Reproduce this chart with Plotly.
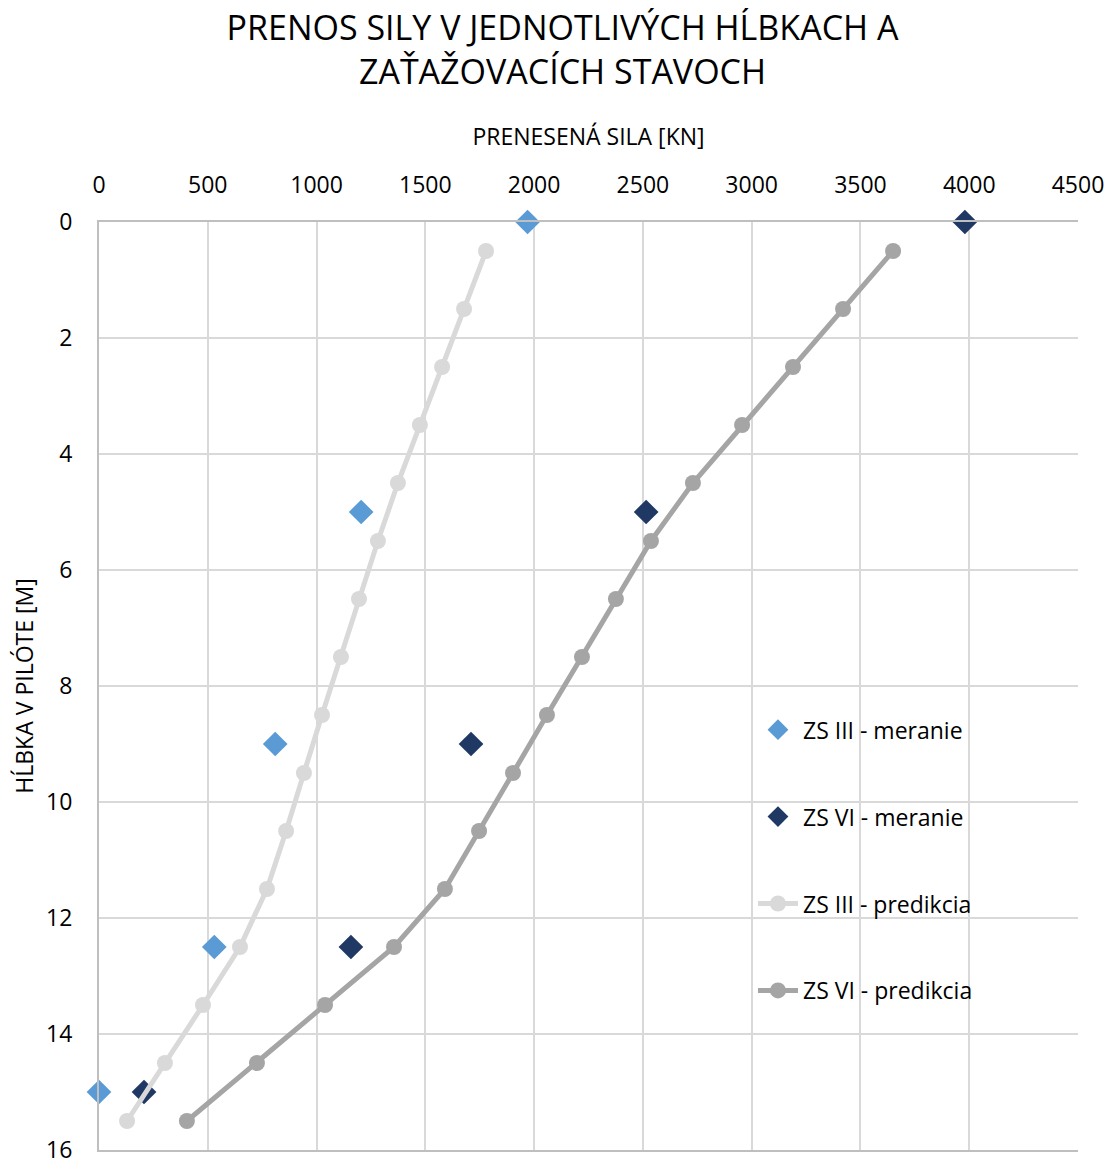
import plotly.graph_objects as go

# Measured values
meas_depth = [0, 5, 9, 12.5, 15]
zs3_meas = [1970, 1205, 810, 530, 0]
zs6_meas = [3980, 2515, 1710, 1158, 207]

pred_depth = [0.5, 1.5, 2.5, 3.5, 4.5, 5.5, 6.5, 7.5, 8.5, 9.5, 10.5, 11.5, 12.5, 13.5, 14.5, 15.5]
zs3_pred = [1779, 1678, 1577, 1475, 1374, 1282, 1195, 1112, 1025, 942, 860, 772, 648, 478, 303, 129]
zs6_pred = [3650, 3420, 3190, 2956, 2730, 2537, 2376, 2220, 2059, 1903, 1747, 1590, 1356, 1039, 726, 404]

x_ticks = [0, 500, 1000, 1500, 2000, 2500, 3000, 3500, 4000, 4500]
y_ticks = [0, 2, 4, 6, 8, 10, 12, 14, 16]

FONT = "Open Sans"

fig = go.Figure()
fig.add_trace(go.Scatter(x=zs3_meas, y=meas_depth, mode="markers", name="ZS III - meranie",
                         legendgroup="a", cliponaxis=False,
                         marker=dict(symbol="diamond", size=19, color="#5B9BD5")))
fig.add_trace(go.Scatter(x=zs6_meas, y=meas_depth, mode="markers", name="ZS VI - meranie",
                         legendgroup="b", cliponaxis=False,
                         marker=dict(symbol="diamond", size=19, color="#203864")))
fig.add_trace(go.Scatter(x=zs3_pred, y=pred_depth, mode="lines+markers", name="ZS III - predikcia",
                         legendgroup="c", cliponaxis=False,
                         line=dict(color="#D9D9D9", width=5),
                         marker=dict(symbol="circle", size=16, color="#D9D9D9")))
fig.add_trace(go.Scatter(x=zs6_pred, y=pred_depth, mode="lines+markers", name="ZS VI - predikcia",
                         legendgroup="d", cliponaxis=False,
                         line=dict(color="#A5A5A5", width=5),
                         marker=dict(symbol="circle", size=16, color="#A5A5A5")))

fig.update_layout(
    width=1109, height=1150,
    paper_bgcolor="white", plot_bgcolor="white",
    margin=dict(l=91, r=39, t=214, b=8),
    font=dict(family=FONT, color="#000000", size=23),
    title=dict(text="PRENOS SILY V JEDNOTLIVÝCH HĹBKACH A<br>ZAŤAŽOVACÍCH STAVOCH",
               x=0.5, xanchor="center", y=0.972, yanchor="top",
               font=dict(family=FONT, size=34, color="#000000")),
    legend=dict(x=0.668, y=0.476, xanchor="left", yanchor="top",
                font=dict(family=FONT, size=23, color="#000000"),
                bgcolor="rgba(0,0,0,0)", tracegroupgap=54, itemwidth=40),
    showlegend=True,
)
fig.update_xaxes(side="top", range=[0, 4500], tickvals=x_ticks, ticktext=[str(v) for v in x_ticks],
                 showgrid=True, gridcolor="#D9D9D9", gridwidth=2,
                 showline=True, linecolor="#BFBFBF", linewidth=2, mirror=True,
                 zeroline=False, ticks="", ticklabelstandoff=18, automargin=False,
                 ticklabeloverflow="allow",
                 tickfont=dict(family=FONT, size=23),
                 title=dict(text="PRENESENÁ SILA [KN]", font=dict(family=FONT, size=23), standoff=16))
fig.update_yaxes(range=[16, 0], tickvals=y_ticks, ticktext=[str(v) for v in y_ticks],
                 showgrid=True, gridcolor="#D9D9D9", gridwidth=2,
                 showline=True, linecolor="#BFBFBF", linewidth=2,
                 zeroline=False, ticks="", ticklabelstandoff=20, automargin=False,
                 ticklabeloverflow="allow",
                 tickfont=dict(family=FONT, size=23),
                 title=dict(text="HĹBKA V PILÓTE [M]", font=dict(family=FONT, size=23), standoff=10))

fig.write_html("out.html")
